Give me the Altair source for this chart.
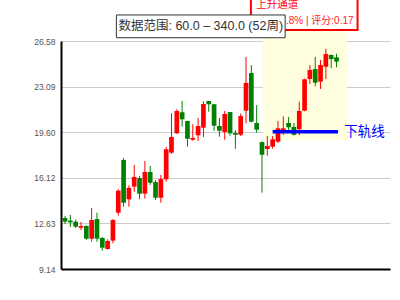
import altair as alt
import pandas as pd

# ---- data ----
weeks = list(range(52))
opens = [13.04, 12.84, 12.76, 12.30, 12.43, 11.46, 12.96, 11.51, 10.67, 11.31,
         13.45, 17.48, 14.47, 15.44, 16.10, 14.90, 16.56, 15.79, 14.59, 16.00,
         18.04, 19.52, 21.13, 20.46, 19.03, 19.37, 19.95, 21.99, 21.74, 20.08,
         19.62, 21.15, 19.54, 19.41, 21.25, 24.13, 20.31, 18.85, 18.32, 18.50,
         18.88, 19.54, 20.31, 20.00, 19.83, 21.25, 23.67, 24.44, 23.47, 24.61,
         25.51, 25.33]
highs = [13.19, 13.27, 12.91, 12.74, 12.48, 13.81, 13.45, 11.59, 11.41, 12.96,
         15.24, 17.63, 15.54, 17.10, 16.25, 17.40, 17.02, 15.95, 16.33, 18.47,
         21.05, 21.36, 21.99, 20.46, 20.21, 20.69, 21.97, 21.99, 21.76, 20.69,
         21.23, 21.15, 19.77, 21.02, 25.36, 24.74, 21.68, 18.90, 19.31, 19.31,
         20.46, 20.82, 20.77, 20.31, 21.94, 23.70, 24.74, 25.36, 25.13, 25.97,
         25.55, 25.61]
lows = [12.58, 12.35, 12.28, 12.12, 11.36, 11.23, 11.23, 10.54, 10.62, 11.11,
        13.22, 13.91, 13.91, 15.05, 14.47, 14.52, 15.57, 14.42, 14.21, 15.82,
        17.94, 19.47, 20.03, 18.50, 18.95, 18.93, 19.24, 21.17, 19.72, 19.26,
        19.03, 19.34, 18.34, 19.31, 20.28, 20.35, 19.57, 14.98, 17.81, 18.34,
        18.78, 19.40, 19.60, 19.35, 19.39, 21.20, 23.29, 23.12, 22.91, 23.67,
        24.51, 24.57]
closes = [12.76, 12.71, 12.38, 12.43, 11.46, 12.89, 11.46, 10.77, 11.28, 12.89,
          15.13, 14.21, 15.34, 16.18, 14.90, 16.56, 15.74, 14.59, 16.02, 18.30,
          19.24, 21.23, 20.59, 19.11, 19.16, 20.08, 21.76, 21.74, 20.10, 19.72,
          21.00, 19.52, 19.41, 20.84, 23.37, 20.41, 19.80, 17.88, 18.55, 19.06,
          19.90, 19.90, 19.98, 19.41, 21.23, 23.65, 24.36, 23.39, 24.74, 25.59,
          25.20, 25.00]
y_ticks = [9.14, 12.63, 16.12, 19.60, 23.09, 26.58]

# channel / annotation values (data space)
channel_x = [37.16, 53.0]
channel_y = [19.01, 27.50]
lower_line_x = [39.0, 51.3]
lower_line_y = 19.63
channel_name = "上升通道"
channel_info = "涨幅:27.8% | 评分:0.17"
range_text = "数据范围: 60.0 – 340.0 (52周)"

FONT = "Liberation Sans, Noto Sans CJK SC"

df = pd.DataFrame({"w": weeks, "open": opens, "high": highs, "low": lows, "close": closes})
df["dir"] = ["up" if c > o else "down" for o, c in zip(opens, closes)]

xs = alt.Scale(domain=[0.18214, 60.107], nice=False, zero=False)
ys = alt.Scale(domain=[y_ticks[0], y_ticks[-1]], nice=False, zero=False)
col = alt.Color("dir:N", scale=alt.Scale(domain=["up", "down"], range=["#ff0000", "#008000"]), legend=None)

base = alt.Chart(df)

xaxis = alt.Axis(labels=False, ticks=False, grid=False, domainColor="black", domainWidth=2, title=None)
yaxis = alt.Axis(values=y_ticks, format=".2f", ticks=False, grid=True, gridColor="#cccccc", gridWidth=1,
                 domainColor="black", domainWidth=2, labelFontSize=8.5, labelColor="#555555",
                 labelFont="Liberation Sans", labelPadding=6, title=None)

# yellow channel area
zone = alt.Chart(pd.DataFrame({"x": [channel_x[0]], "x2": [channel_x[1]],
                               "y": [channel_y[0]], "y2": [channel_y[1]]})).mark_rect(
    fill="#ffffe0", clip=False).encode(
    x=alt.X("x:Q", scale=xs, axis=xaxis), x2="x2:Q",
    y=alt.Y("y:Q", scale=ys, axis=yaxis), y2="y2:Q")

wicks = base.mark_rule(strokeWidth=1).encode(
    x=alt.X("w:Q", scale=xs), y=alt.Y("low:Q", scale=ys), y2="high:Q", color=col)
bodies = base.mark_bar(size=4.7).encode(
    x=alt.X("w:Q", scale=xs), y=alt.Y("open:Q", scale=ys), y2="close:Q", color=col)

lower = alt.Chart(pd.DataFrame({"x": [lower_line_x[0]], "x2": [lower_line_x[1]], "y": [lower_line_y]})).mark_rule(
    color="#0000ff", strokeWidth=3.5).encode(
    x=alt.X("x:Q", scale=xs), x2="x2:Q", y=alt.Y("y:Q", scale=ys))
lower_txt = alt.Chart(pd.DataFrame({"x": [52.45], "y": [lower_line_y], "t": ["下轨线"]})).mark_text(
    align="left", baseline="middle", fontSize=13.5, color="#0000ff", font=FONT, clip=False).encode(
    x=alt.X("x:Q", scale=xs), y=alt.Y("y:Q", scale=ys), text="t:N")

# red label box (partly off the top)
red_box = alt.Chart(pd.DataFrame({"x": [34.92], "x2": [54.95], "y": [27.42], "y2": [30.3]})).mark_rect(
    fill="white", stroke="#ff0000", strokeWidth=2, clip=False).encode(
    x=alt.X("x:Q", scale=xs), x2="x2:Q", y=alt.Y("y:Q", scale=ys), y2="y2:Q")
red_t1 = alt.Chart(pd.DataFrame({"x": [35.9], "y": [29.33], "t": [channel_name]})).mark_text(
    align="left", baseline="middle", fontSize=10.5, color="#ff0000", font=FONT, clip=False).encode(
    x=alt.X("x:Q", scale=xs), y=alt.Y("y:Q", scale=ys), text="t:N")
red_t2 = alt.Chart(pd.DataFrame({"x": [54.2], "y": [28.13], "t": [channel_info]})).mark_text(
    align="right", baseline="middle", fontSize=10, color="#ff2020", font=FONT, clip=False).encode(
    x=alt.X("x:Q", scale=xs), y=alt.Y("y:Q", scale=ys), text="t:N")

# data-range title box
title_box = alt.Chart(pd.DataFrame({"x": [9.65], "x2": [41.35], "y": [26.83], "y2": [28.57]})).mark_rect(
    fill="white", stroke="#333333", strokeWidth=1, clip=False).encode(
    x=alt.X("x:Q", scale=xs), x2="x2:Q", y=alt.Y("y:Q", scale=ys), y2="y2:Q")
title_txt = alt.Chart(pd.DataFrame({"x": [25.5], "y": [27.69], "t": [range_text]})).mark_text(
    align="center", baseline="middle", fontSize=12.5, color="#333333", font=FONT, clip=False).encode(
    x=alt.X("x:Q", scale=xs), y=alt.Y("y:Q", scale=ys), text="t:N")

chart = alt.layer(zone, wicks, bodies, lower, lower_txt, red_box, red_t1, red_t2, title_box, title_txt).properties(
    width=329, height=228, autosize="none",
    padding={"left": 61, "top": 41, "right": 10, "bottom": 31},
    background="white",
).configure_view(strokeWidth=0)

chart.save("out.html", embed_options={"renderer": "svg", "actions": False})
